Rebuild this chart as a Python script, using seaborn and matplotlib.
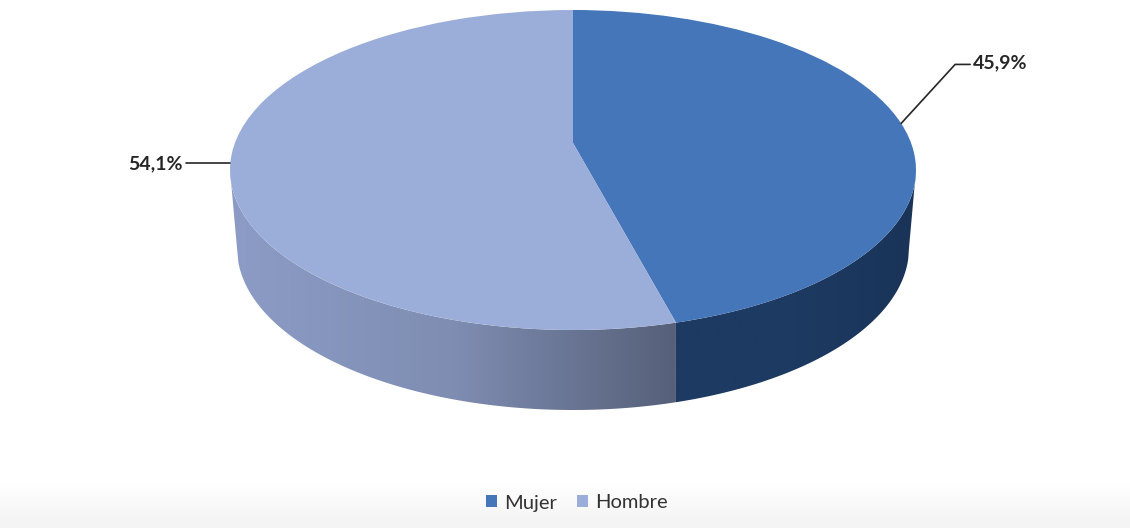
import numpy as np
import matplotlib
matplotlib.use("Agg")
import matplotlib.pyplot as plt
from matplotlib.colors import LinearSegmentedColormap
from matplotlib.patches import Polygon
from matplotlib.transforms import Transform
import seaborn as sns

# data
categories = ["Mujer", "Hombre"]
shares = [45.9, 54.1]
share_labels = ["45,9%", "54,1%"]

# style
top_colors = sns.color_palette(["#4576B9", "#9BADD9"])
mujer_side = ["#1C3A63", "#1D3A62", "#1A3458"]
hombre_side = ["#8C9CC6", "#7F8DB2", "#566079"]

W, H = 1130, 528
CX, CY, RX, RY = 573, 170, 343, 160
BASE_CY, BASE_RX, BASE_RY = 248, 336, 162   # lower rim of the drum, seen in perspective
TILT = 0.169   # perspective: apex sits above the ellipse centre

sns.set_theme(style="white")
plt.rcParams["font.family"] = ["Lato", "DejaVu Sans"]


def warp_xy(x, y):
    d = 1 + TILT * y
    return x * np.sqrt(1 - TILT ** 2) / d, (y + TILT) / d


class DiscWarp(Transform):
    input_dims = output_dims = 2

    def transform_non_affine(self, values):
        v = np.asarray(values, float)
        return np.column_stack(warp_xy(v[:, 0], v[:, 1]))


def rim(deg):
    t = np.radians(deg)
    return warp_xy(np.sin(t), np.cos(t))


fig = plt.figure(figsize=(W / 100, H / 100), dpi=100)
ax = fig.add_axes([0, 0, 1, 1])

# top surface, clockwise from twelve o'clock
wedges, _ = ax.pie(shares, colors=top_colors, startangle=90, counterclock=False,
                   wedgeprops=dict(linewidth=0, zorder=5))
warp = DiscWarp()
for w in wedges:
    w.set_transform(warp + ax.transData)

xlim = (-CX / RX, (W - CX) / RX)
ylim = ((CY - H) / RY, CY / RY)

# side walls: from the split on the front edge out to each horizontal extreme
split = 360 * shares[0] / sum(shares)
sx, _y = rim(split)
bx = BASE_RX / RX
by0 = (CY - BASE_CY) / RY
by = BASE_RY / RY


def wall(top_sign, cols):
    """top_sign=+1: split -> right extreme, -1: split -> left extreme."""
    end = top_sign * 1.0
    xt = np.linspace(sx, end, 300)
    yt = -np.sqrt(np.clip(1 - xt ** 2, 0, None))
    xb = np.linspace(sx, end * bx, 300)
    yb = by0 - by * np.sqrt(np.clip(1 - (xb / bx) ** 2, 0, None))
    pts = np.vstack([np.column_stack([xt, yt]),
                     np.column_stack([xb[::-1], yb[::-1]])])
    poly = Polygon(pts, closed=True, transform=ax.transData, fc="none", ec="none")
    ax.add_patch(poly)
    cmap = LinearSegmentedColormap.from_list("w", cols)
    im = ax.imshow(np.linspace(0, 1, 256)[None, :], cmap=cmap, aspect="auto",
                   extent=(min(sx, end), max(sx, end), -2, 1.2), zorder=2)
    im.set_clip_path(poly)


wall(+1, mujer_side)
wall(-1, hombre_side)

# faint grey band at the foot of the picture
band = ax.imshow(np.linspace(0, 1, 64)[:, None], aspect="auto", zorder=0,
                 cmap=LinearSegmentedColormap.from_list("b", ["#FFFFFF", "#F4F4F4"]),
                 extent=(xlim[0], xlim[1], ylim[0] + 6 / RY, ylim[0] + 45 / RY),
                 origin="upper")
ax.axhspan(ylim[0], ylim[0] + 6 / RY, color="#F4F4F4", lw=0, zorder=0)

# leader lines and value labels
ink = "#262626"
tx, ty = rim(360 * shares[0] / sum(shares) / 2)
ax.plot([tx, tx + 54 / RX, tx + 69 / RX], [ty, ty + 59 / RY, ty + 59 / RY],
        color=ink, lw=1.2, zorder=6)
ax.text(tx + 72 / RX, ty + 61 / RY, share_labels[0], ha="left", va="center",
        fontsize=14, fontweight="bold", color=ink)

lx, ly = rim(360 * (shares[0] + shares[1] / 2) / sum(shares))
ax.plot([lx, lx - 44 / RX], [ly, ly], color=ink, lw=1.2, zorder=6)
ax.text(lx - 48 / RX, ly, share_labels[1], ha="right", va="center",
        fontsize=14, fontweight="bold", color=ink)

ax.set_aspect("auto")
ax.set_xlim(xlim)
ax.set_ylim(ylim)
ax.set_axis_off()

fig.legend(wedges, categories, loc="center", bbox_to_anchor=(577 / W, 1 - 503 / H),
           ncol=2, frameon=False, fontsize=14.5, labelcolor="#333333",
           handlelength=0.55, handleheight=0.55, handletextpad=0.35, columnspacing=1.0)

fig.savefig("out.png", dpi=100)
